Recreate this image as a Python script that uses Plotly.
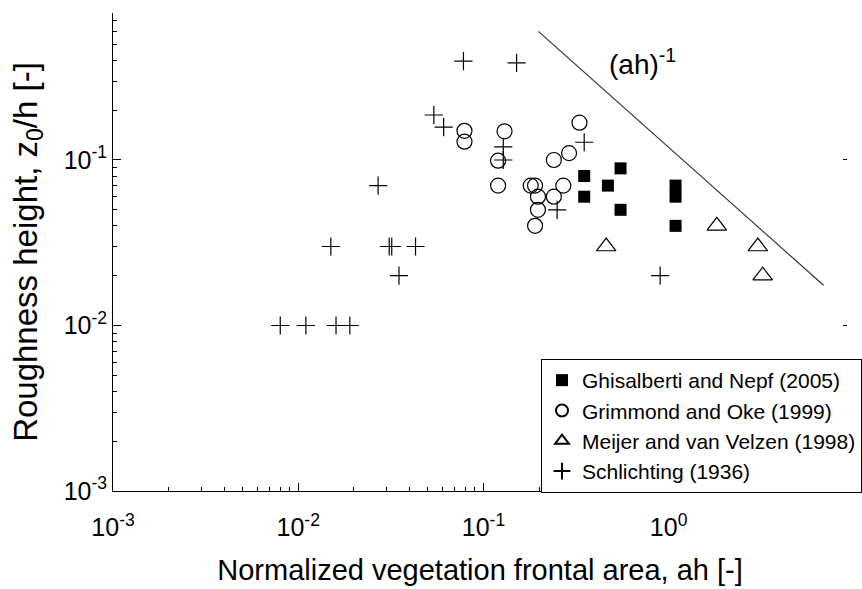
import numpy as np
import plotly.graph_objects as go

# Ghisalberti and Nepf (2005)
gn_ah = [0.35, 0.35, 0.47, 0.55, 0.55, 1.09, 1.09, 1.09]
gn_z0 = [0.080, 0.060, 0.070, 0.089, 0.050, 0.070, 0.060, 0.040]

# Grimmond and Oke (1999)
go_ah = [0.079, 0.079, 0.13, 0.12, 0.12, 0.18, 0.19, 0.197, 0.197, 0.19,
         0.24, 0.27, 0.24, 0.29, 0.33]
go_z0 = [0.150, 0.129, 0.149, 0.099, 0.070, 0.070, 0.070, 0.060, 0.050, 0.040,
         0.060, 0.070, 0.100, 0.110, 0.168]

# Meijer and van Velzen (1998)
mv_ah = [0.46, 1.82, 3.03, 3.22]
mv_z0 = [0.030, 0.040, 0.030, 0.020]

# Schlichting (1936)
sc_ah = [0.008, 0.011, 0.016, 0.019, 0.015, 0.031, 0.032, 0.043, 0.035, 0.027,
         0.054, 0.061, 0.078, 0.151, 0.128, 0.128, 0.25, 0.35, 0.9]
sc_z0 = [0.010, 0.010, 0.010, 0.010, 0.030, 0.030, 0.030, 0.030, 0.020, 0.070,
         0.187, 0.158, 0.396, 0.386, 0.120, 0.100, 0.050, 0.128, 0.020]

# (ah)^-1 reference line end points
line_ah = [0.198, 6.86]
line_z0 = [0.598, 0.0175]

# axis ticks
major_vals = [1e-3, 1e-2, 1e-1, 1e0, 1e1]
major_text = ["10<sup>-3</sup>", "10<sup>-2</sup>", "10<sup>-1</sup>",
              "10<sup>0</sup>", "10<sup>1</sup>"]
minor_vals = [m * d for d in (1e-3, 1e-2, 1e-1, 1e0) for m in range(2, 10)]

FONT = "Arial, Liberation Sans, sans-serif"
X_RANGE = [-3, 0.963]
Y_RANGE = [-3, -0.112]

fig = go.Figure()

fig.add_trace(go.Scatter(
    x=gn_ah, y=gn_z0, mode="markers", name="Ghisalberti and Nepf (2005)",
    marker=dict(symbol="square", size=12, color="black",
                line=dict(color="black", width=0))))
fig.add_trace(go.Scatter(
    x=go_ah, y=go_z0, mode="markers", name="Grimmond and Oke (1999)",
    marker=dict(symbol="circle-open", size=15, color="black",
                line=dict(color="black", width=1.2))))
fig.add_trace(go.Scatter(
    x=mv_ah, y=mv_z0, mode="markers", name="Meijer and van Velzen (1998)",
    marker=dict(symbol="triangle-up-open", size=17, color="black",
                line=dict(color="black", width=1.2))))
fig.add_trace(go.Scatter(
    x=sc_ah, y=sc_z0, mode="markers", name="Schlichting (1936)",
    marker=dict(symbol="cross-thin-open", size=13, color="black",
                line=dict(color="black", width=1.2))))
fig.add_trace(go.Scatter(
    x=line_ah, y=line_z0, mode="lines", showlegend=False, yaxis="y2",
    line=dict(color="#333333", width=1.2)))

fig.add_annotation(
    x=np.log10(0.72), y=np.log10(0.39), xref="x", yref="y",
    text="(ah)<sup>-1</sup>", showarrow=False,
    font=dict(family=FONT, size=28, color="black"))

axis_common = dict(
    type="log", showgrid=False, zeroline=False,
    ticks="inside", ticklen=8, tickwidth=1, tickcolor="black",
    tickvals=major_vals, ticktext=major_text,
    tickfont=dict(family=FONT, size=25, color="black"),
    minor=dict(tickvals=minor_vals, ticks="inside", ticklen=4,
               tickwidth=1, tickcolor="black", showgrid=False),
)

fig.update_layout(
    width=862, height=589,
    margin=dict(l=113, r=0, t=13, b=98, pad=0),
    paper_bgcolor="white", plot_bgcolor="white",
    font=dict(family=FONT, color="black"),
    xaxis=dict(
        **axis_common, range=X_RANGE,
        showline=True, linecolor="black", linewidth=1,
        ticklabelstandoff=14,
        title=dict(text="Normalized vegetation frontal area, ah [-]",
                   font=dict(family=FONT, size=29, color="black"),
                   standoff=19),
    ),
    yaxis=dict(
        **axis_common, range=Y_RANGE,
        showline=True, linecolor="black", linewidth=1,
        title=dict(text="Roughness height, z<sub>0</sub>/h [-]",
                   font=dict(family=FONT, size=33, color="black"),
                   standoff=16),
    ),
    yaxis2=dict(
        type="log", range=Y_RANGE, overlaying="y", side="right", anchor="x",
        showgrid=False, zeroline=False, showline=False,
        ticks="inside", ticklen=4, tickcolor="black",
        tickvals=major_vals, showticklabels=False,
    ),
    legend=dict(
        x=(550 - 113) / 749, y=(491 - 359) / 478,
        xanchor="left", yanchor="top",
        bgcolor="white", bordercolor="black", borderwidth=1,
        font=dict(family=FONT, size=21, color="black"),
        itemsizing="constant", tracegroupgap=0,
    ),
    showlegend=True,
)

fig.write_html("out.html")
